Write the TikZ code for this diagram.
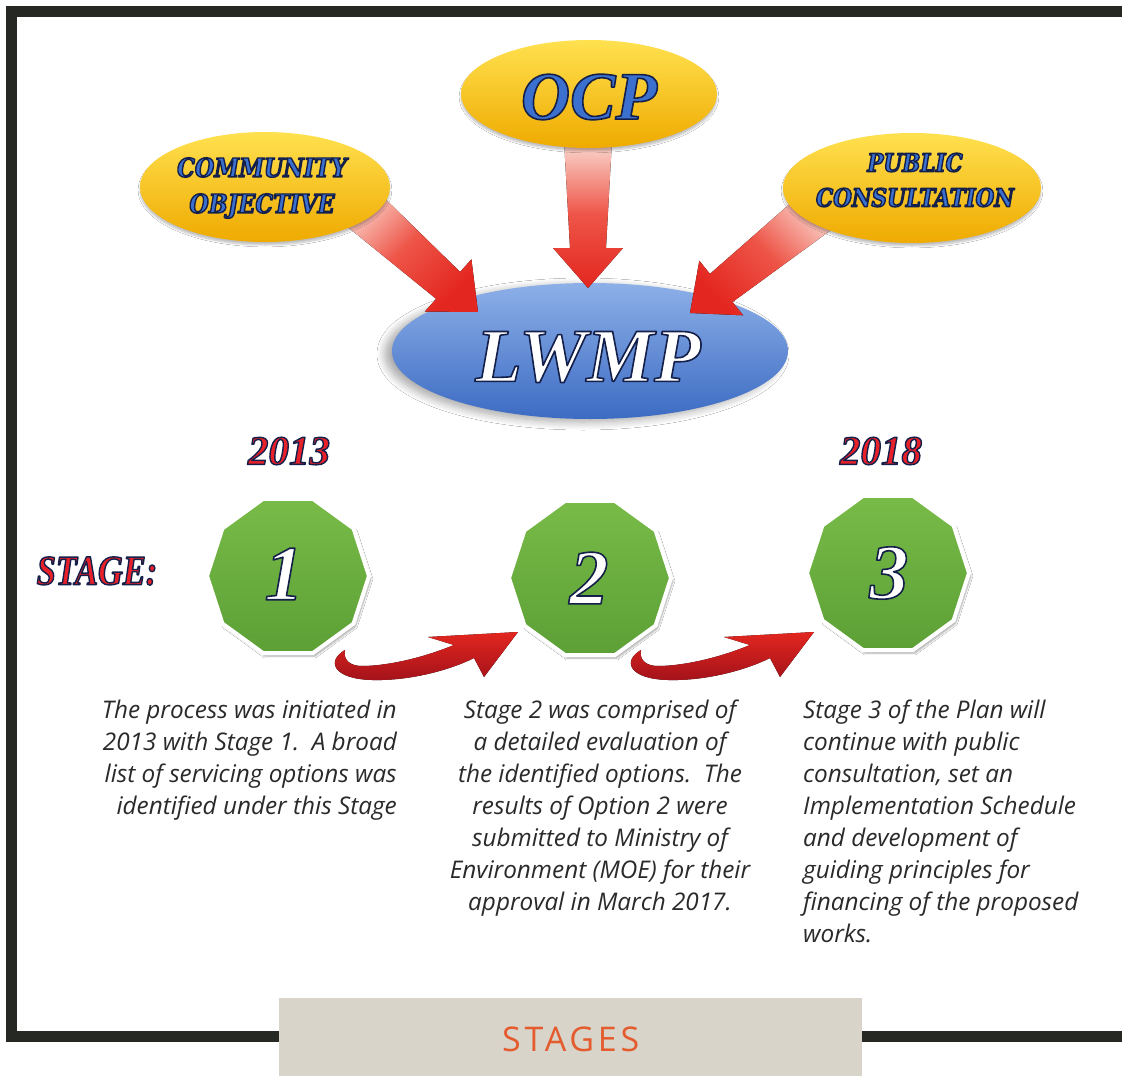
\documentclass[tikz,border=0pt]{standalone}
\usepackage{fontspec}
\setmainfont{Liberation Serif}
\newfontfamily\osans{Open Sans}
\newfontfamily\osanssp[LetterSpace=11]{Open Sans}
\newfontfamily\hdserif{Liberation Serif}
\newfontfamily\cdserif[FakeStretch=0.82]{Liberation Serif}
\newfontfamily\dvserif[FakeStretch=0.86]{DejaVu Serif}
\usetikzlibrary{calc,shapes.geometric,shadows.blur}
\definecolor{framec}{HTML}{262824}
\definecolor{boxgray}{HTML}{D8D4C9}
\definecolor{stagesc}{HTML}{E45C2E}
\definecolor{yelTop}{HTML}{FFE14F}
\definecolor{yelBot}{HTML}{EFAA00}
\definecolor{bluTop}{HTML}{8DB0E8}
\definecolor{bluBot}{HTML}{3C6BC3}
\definecolor{grnTop}{HTML}{78BB48}
\definecolor{grnBot}{HTML}{5CA036}
\definecolor{redA}{HTML}{E3261F}
\definecolor{redMid}{HTML}{EE5548}
\definecolor{redPale}{HTML}{FBDCD3}
\definecolor{redDark}{HTML}{A3121A}
\definecolor{txtblue}{HTML}{3C70CF}
\definecolor{yearred}{HTML}{E8202A}
\definecolor{bodytxt}{HTML}{2A2A2A}
% outlined text: fill in current colour, stroke in navy
\newcommand\outl[2]{\special{pdf:literal direct 0.078 0.125 0.29 RG #1 w 1 j 2 Tr}#2\special{pdf:literal direct 0 Tr}}
\newcommand\bigarrow[2]{% #1 tail, #2 tip
  \fill[shading=axis,top color=redPale,bottom color=redA,middle color=redMid,shading angle=\arrowang]
    ($(#1)!24pt!90:(#2)$) -- ($($(#2)!40pt!(#1)$)!18pt!90:(#2)$) -- ($($(#2)!40pt!(#1)$)!35pt!90:(#2)$)
    -- (#2) -- ($($(#2)!40pt!(#1)$)!35pt!-90:(#2)$) -- ($($(#2)!40pt!(#1)$)!18pt!-90:(#2)$)
    -- ($(#1)!24pt!-90:(#2)$) -- cycle;
}
\tikzset{
  yel/.style={ellipse,inner sep=0pt,top color=yelTop,bottom color=yelBot,
    blur shadow={shadow xshift=0pt,shadow yshift=-3pt,shadow blur steps=6,shadow opacity=25}},
  stagebox/.style={regular polygon,regular polygon sides=10,minimum size=162pt,inner sep=0pt,
    top color=grnTop,bottom color=grnBot,draw=white,line width=4pt,
    blur shadow={shadow xshift=2pt,shadow yshift=-3pt,shadow blur steps=6,shadow opacity=35}},
  body/.style={font=\osans\itshape\fontsize{24.3}{32}\selectfont,text=bodytxt,inner sep=0pt},
  curvy/.style={top color=redA,bottom color=redDark},
  otext/.style={align=center,inner sep=0pt}
}
\begin{document}
\begin{tikzpicture}[x=1pt,y=-1pt]
\useasboundingbox (0,0) rectangle (1122,1076);
\fill[white] (0,0) rectangle (1122,1076);
% frame
\fill[framec] (6,6) rectangle (1122,17);
\fill[framec] (6,6) rectangle (17,1042);
\fill[framec] (6,1031) rectangle (1122,1042);
% caption box
\node[fill=boxgray,minimum width=583pt,minimum height=78pt,anchor=north west,inner sep=0pt] (capbox) at (279,998) {};
\node[font=\osanssp\fontsize{34}{34}\selectfont,text=stagesc] (captxt) at ($(capbox.center)+(0,2)$) {STAGES};
% LWMP ellipse
\node[ellipse,inner sep=0pt,minimum width=396pt,minimum height=136pt,top color=bluTop,bottom color=bluBot,
  blur shadow={shadow xshift=-7pt,shadow yshift=-3pt,shadow blur steps=10,shadow blur radius=8pt,shadow opacity=35}] (lw) at (590,351) {};
% big arrows
\coordinate (t1) at (350,198); \coordinate (p1) at (478,312);
\coordinate (t2) at (588,140); \coordinate (p2) at (588,288);
\coordinate (t3) at (826,204); \coordinate (p3) at (690,313);
\def\arrowang{45}\bigarrow{t1}{p1}
\def\arrowang{0}\bigarrow{t2}{p2}
\def\arrowang{-45}\bigarrow{t3}{p3}
% yellow ellipses
\node[yel,minimum width=256pt,minimum height=108pt] (ocp) at (589,94) {};
\node[yel,minimum width=250pt,minimum height=110pt] (com) at (265,187) {};
\node[yel,minimum width=258pt,minimum height=110pt] (pub) at (912,188) {};
% ellipse texts
\node[otext,font=\hdserif\bfseries\itshape\fontsize{68}{68}\selectfont,text=txtblue] (ocpt) at (589,97) {\outl{1.6}{OCP}};
\node[otext,font=\dvserif\bfseries\itshape\fontsize{26}{36}\selectfont,text=txtblue] (comt) at (262,188) {\outl{1.4}{COMMUNITY\\OBJECTIVE}};
\node[otext,font=\dvserif\bfseries\itshape\fontsize{25}{35}\selectfont,text=txtblue] (pubt) at (915,180) {\outl{1.4}{PUBLIC\\CONSULTATION}};
\node[otext,font=\hdserif\bfseries\itshape\fontsize{76}{76}\selectfont,text=white] (lwt) at (588,357) {\outl{1.6}{LWMP}};
% years and stage label
\node[otext,font=\hdserif\bfseries\itshape\fontsize{41}{41}\selectfont,text=yearred] (y1) at (289,451) {\outl{1.4}{2013}};
\node[otext,font=\hdserif\bfseries\itshape\fontsize{41}{41}\selectfont,text=yearred] (y2) at (881,451) {\outl{1.4}{2018}};
\node[otext,font=\cdserif\bfseries\itshape\fontsize{42}{42}\selectfont,text=yearred] (stl) at (97,571) {\outl{1.4}{STAGE:}};
% stage polygons
\node[stagebox] (s1) at (288,576) {};
\node[stagebox] (s2) at (590,578) {};
\node[stagebox] (s3) at (888,573) {};
\node[otext,font=\hdserif\bfseries\itshape\fontsize{78}{78}\selectfont,text=white] (n1) at (284,574) {\outl{1.6}{1}};
\node[otext,font=\hdserif\bfseries\itshape\fontsize{78}{78}\selectfont,text=white] (n2) at (589,578) {\outl{1.6}{2}};
\node[otext,font=\hdserif\bfseries\itshape\fontsize{78}{78}\selectfont,text=white] (n3) at (889,573) {\outl{1.6}{3}};
% curved arrows
\foreach \dx in {0,296}{
\begin{scope}[shift={(\dx,0)}]
\fill[curvy] (345,650) .. controls (326,661) and (333,679) .. (372,680)
  .. controls (410,681) and (450,670) .. (474,658) -- (484,677) -- (518,632) -- (428,637) -- (454,645)
  .. controls (420,659) and (385,666) .. (362,666) .. controls (350,666) and (343,660) .. (345,650) -- cycle;
\end{scope}}
% body texts
\node[body,align=right,anchor=north east] (txt1) at (397,700) {The process was initiated in\\2013 with Stage 1.\ \ A broad\\list of servicing options was\\identified under this Stage};
\node[body,align=center,anchor=north] (txt2) at (600,700) {Stage 2 was comprised of\\a detailed evaluation of\\the identified options.\ \ The\\results of Option 2 were\\submitted to Ministry of\\Environment (MOE) for their\\approval in March 2017.};
\node[body,align=left,anchor=north west] (txt3) at (803,700) {Stage 3 of the Plan will\\continue with public\\consultation, set an\\Implementation Schedule\\and development of\\guiding principles for\\financing of the proposed\\works.};
\end{tikzpicture}
\end{document}
